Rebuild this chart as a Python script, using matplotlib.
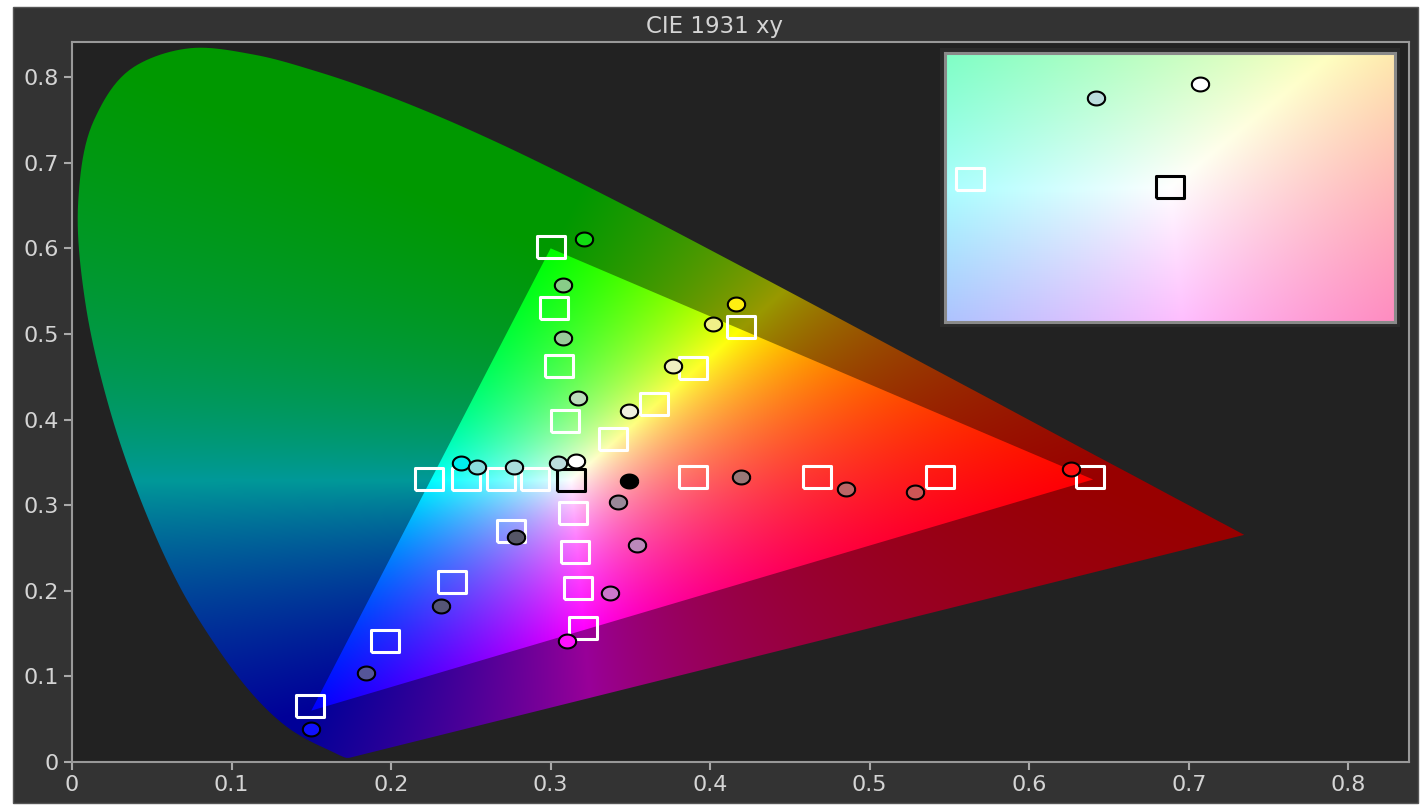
import numpy as np
import matplotlib
matplotlib.use('Agg')
import matplotlib.pyplot as plt
from matplotlib.patches import Polygon, Rectangle

plt.rcParams['font.family'] = ['DejaVu Sans']

# CIE 1931 2deg spectral locus, 380..700 nm every 5 nm
locus_x = [0.1741, 0.1740, 0.1738, 0.1736, 0.1733, 0.1730, 0.1726, 0.1721, 0.1714, 0.1703,
           0.1689, 0.1669, 0.1644, 0.1611, 0.1566, 0.1510, 0.1440, 0.1355, 0.1241, 0.1096,
           0.0913, 0.0687, 0.0454, 0.0235, 0.0082, 0.0039, 0.0139, 0.0389, 0.0743, 0.1142,
           0.1547, 0.1929, 0.2296, 0.2658, 0.3016, 0.3373, 0.3731, 0.4087, 0.4441, 0.4788,
           0.5125, 0.5448, 0.5752, 0.6029, 0.6270, 0.6482, 0.6658, 0.6801, 0.6915, 0.7006,
           0.7079, 0.7140, 0.7190, 0.7230, 0.7260, 0.7283, 0.7300, 0.7311, 0.7320, 0.7327,
           0.7334, 0.7340, 0.7344, 0.7346, 0.7347]
locus_y = [0.0050, 0.0050, 0.0049, 0.0049, 0.0048, 0.0048, 0.0048, 0.0048, 0.0051, 0.0058,
           0.0069, 0.0086, 0.0109, 0.0138, 0.0177, 0.0227, 0.0297, 0.0399, 0.0578, 0.0868,
           0.1327, 0.2007, 0.2950, 0.4127, 0.5384, 0.6548, 0.7502, 0.8120, 0.8338, 0.8262,
           0.8059, 0.7816, 0.7543, 0.7243, 0.6923, 0.6589, 0.6245, 0.5896, 0.5547, 0.5202,
           0.4866, 0.4544, 0.4242, 0.3965, 0.3725, 0.3514, 0.3340, 0.3197, 0.3083, 0.2993,
           0.2920, 0.2859, 0.2809, 0.2770, 0.2740, 0.2717, 0.2700, 0.2689, 0.2680, 0.2673,
           0.2666, 0.2660, 0.2656, 0.2654, 0.2653]

# gamut primaries (R, G, B)
gamut_x = [0.640, 0.300, 0.150]
gamut_y = [0.330, 0.600, 0.060]

# targets: green, yellow, red, cyan, blue, magenta sweeps + white
target_x = [0.300, 0.302, 0.305, 0.309,
            0.419, 0.389, 0.365, 0.339,
            0.638, 0.544, 0.467, 0.389,
            0.224, 0.247, 0.269, 0.2905,
            0.149, 0.196, 0.238, 0.275,
            0.314, 0.315, 0.317, 0.320,
            0.3127]
target_y = [0.602, 0.530, 0.463, 0.398,
            0.508, 0.460, 0.418, 0.377,
            0.333, 0.333, 0.333, 0.333,
            0.331, 0.331, 0.331, 0.331,
            0.065, 0.141, 0.210, 0.270,
            0.291, 0.245, 0.203, 0.157,
            0.329]
target_edge = ['white'] * 24 + ['black']

# measured points
meas_x = [0.321, 0.308, 0.308, 0.317,
          0.416, 0.402, 0.377, 0.349,
          0.626, 0.5285, 0.485, 0.419,
          0.244, 0.254, 0.277, 0.3045, 0.316,
          0.150, 0.184, 0.231, 0.278,
          0.310, 0.337, 0.354, 0.342,
          0.349]
meas_y = [0.611, 0.557, 0.495, 0.425,
          0.535, 0.512, 0.463, 0.410,
          0.342, 0.315, 0.319, 0.333,
          0.349, 0.345, 0.345, 0.349, 0.352,
          0.0385, 0.104, 0.182, 0.263,
          0.141, 0.197, 0.253, 0.304,
          0.328]
meas_color = ['#11dd11', '#88cc88', '#99cc99', '#bbddbb',
              '#ffee11', '#f0f088', '#f0f0c0', '#f0f0dd',
              '#ff1010', '#cc5555', '#bb6666', '#997777',
              '#00eeee', '#88dddd', '#aadddd', '#bbdddd', '#ffffff',
              '#1111ff', '#555599', '#555577', '#555566',
              '#ff11ff', '#cc77cc', '#bb88bb', '#998899',
              '#000000']

# inset window (zoom around white point)
inset_xlim = (0.2877, 0.3377)
inset_ylim = (0.299, 0.359)

M = np.array([[3.2406, -1.5372, -0.4986],
              [-0.9689, 1.8758, 0.0415],
              [0.0557, -0.2040, 1.0570]])


def xy_to_rgb(xx, yy):
    # linear rgb, normalised to the brightest channel (no gamma -> punchier colours)
    yy = np.maximum(yy, 1e-4)
    xyz = np.stack([xx / yy, np.ones_like(xx), (1 - xx - yy) / yy], -1)
    rgb = np.clip(xyz @ M.T, 0, None)
    rgb = rgb / (rgb.max(-1, keepdims=True) + 1e-9)
    return np.clip(rgb, 0, 1)


def smooth_curve(px, py, n=12, alpha=0.5):
    # centripetal catmull-rom through the locus samples
    P = np.column_stack([px, py])
    P = np.vstack([2 * P[0] - P[1], P, 2 * P[-1] - P[-2]])
    out = []
    for i in range(1, len(P) - 2):
        p0, p1, p2, p3 = P[i - 1], P[i], P[i + 1], P[i + 2]
        t0 = 0.0
        t1 = t0 + max(np.linalg.norm(p1 - p0), 1e-6) ** alpha
        t2 = t1 + max(np.linalg.norm(p2 - p1), 1e-6) ** alpha
        t3 = t2 + max(np.linalg.norm(p3 - p2), 1e-6) ** alpha
        t = np.linspace(t1, t2, n, endpoint=False)[:, None]
        a1 = (t1 - t) / (t1 - t0) * p0 + (t - t0) / (t1 - t0) * p1
        a2 = (t2 - t) / (t2 - t1) * p1 + (t - t1) / (t2 - t1) * p2
        a3 = (t3 - t) / (t3 - t2) * p2 + (t - t2) / (t3 - t2) * p3
        b1 = (t2 - t) / (t2 - t0) * a1 + (t - t0) / (t2 - t0) * a2
        b2 = (t3 - t) / (t3 - t1) * a2 + (t - t1) / (t3 - t1) * a3
        out.append((t2 - t) / (t2 - t1) * b1 + (t - t1) / (t2 - t1) * b2)
    out.append(P[-2][None, :])
    return np.vstack(out)


def draw_markers(ax):
    rect = [(-1.3, -1), (1.3, -1), (1.3, 1), (-1.3, 1), (-1.3, -1)]
    t = np.linspace(0, 2 * np.pi, 40)
    ell = list(zip(np.cos(t), 0.8 * np.sin(t)))
    for x, y, ec in zip(target_x, target_y, target_edge):
        ax.plot(x, y, marker=rect, ms=20, mfc='none', mec=ec, mew=2.2, ls='none', zorder=4)
    for x, y, c in zip(meas_x, meas_y, meas_color):
        ax.plot(x, y, marker=ell, ms=12.5, mfc=c, mec='black', mew=1.5, ls='none', zorder=5)


fig = plt.figure(figsize=(14.23, 8.10), dpi=100, facecolor='white')
fig.patches.append(Rectangle((13 / 1423, 7 / 810), 1405 / 1423, 796 / 810,
                             transform=fig.transFigure, facecolor='#333333',
                             edgecolor='#555555', lw=1, zorder=-2))

ax = fig.add_axes([72 / 1423, 48 / 810, 1337 / 1423, 720 / 810])
ax.set_facecolor('#222222')
ax.set_zorder(0)

gx = np.linspace(0, 0.75, 1200)
gy = np.linspace(0, 0.84, 1200)
XX, YY = np.meshgrid(gx, gy)
rgb = xy_to_rgb(XX, YY)

locus = Polygon(smooth_curve(locus_x, locus_y), closed=True, transform=ax.transData)
tri = Polygon(np.column_stack([gamut_x, gamut_y]), closed=True, transform=ax.transData)

im1 = ax.imshow(rgb * 0.6, extent=[0, 0.75, 0, 0.84], origin='lower', aspect='auto',
                interpolation='bilinear', zorder=1)
im1.set_clip_path(locus)
im2 = ax.imshow(rgb, extent=[0, 0.75, 0, 0.84], origin='lower', aspect='auto',
                interpolation='bilinear', zorder=2)
im2.set_clip_path(tri)

draw_markers(ax)

ax.set_xlim(0, 0.838)
ax.set_ylim(0, 0.841)
ax.set_xticks(np.arange(0, 0.81, 0.1))
ax.set_yticks(np.arange(0, 0.81, 0.1))
ax.set_xticklabels(['0', '0.1', '0.2', '0.3', '0.4', '0.5', '0.6', '0.7', '0.8'])
ax.set_yticklabels(['0', '0.1', '0.2', '0.3', '0.4', '0.5', '0.6', '0.7', '0.8'])
ax.tick_params(colors='#aaaaaa', labelcolor='#d4d4d4', labelsize=16, length=6, width=1.5)
for s in ax.spines.values():
    s.set_color('#999999')
    s.set_linewidth(1.5)

fig.text(714 / 1423, 1 - 27 / 810, 'CIE 1931 xy', color='#d4d4d4', fontsize=16.5,
         ha='center', va='center')

# inset with dark frame
frame = Rectangle((940 / 1423, 1 - 327 / 810), 460 / 1423, 279 / 810,
                  transform=fig.transFigure, facecolor='#2b2b2b', edgecolor='none', zorder=1)
fig.patches.append(frame)
ax2 = fig.add_axes([945 / 1423, 1 - 322 / 810, 450 / 1423, 269 / 810])
ax2.set_zorder(2)
ix = np.linspace(inset_xlim[0], inset_xlim[1], 300)
iy = np.linspace(inset_ylim[0], inset_ylim[1], 300)
IX, IY = np.meshgrid(ix, iy)
ax2.imshow(xy_to_rgb(IX, IY), extent=[*inset_xlim, *inset_ylim], origin='lower',
           aspect='auto', interpolation='bilinear', zorder=1)
draw_markers(ax2)
ax2.set_xlim(*inset_xlim)
ax2.set_ylim(*inset_ylim)
ax2.set_xticks([])
ax2.set_yticks([])
for s in ax2.spines.values():
    s.set_color('#8a8a8a')
    s.set_linewidth(2.2)

fig.savefig('out.png', dpi=100, facecolor=fig.get_facecolor())
